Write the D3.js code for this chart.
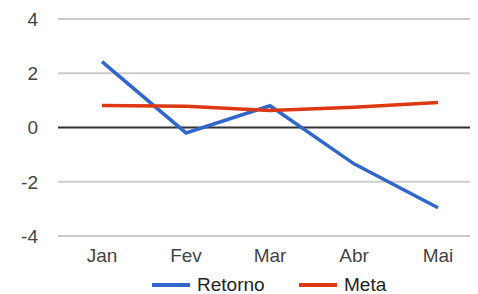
<!DOCTYPE html>
<html>
<head>
<meta charset="utf-8">
<script src="https://cdn.jsdelivr.net/npm/d3@7"></script>
<style>
  body { margin: 0; background: #fff; }
  text { font-family: "Liberation Sans", Arial, sans-serif; }
</style>
</head>
<body>
<svg id="chart" width="478" height="294"></svg>
<script>
let months = ['Jan', 'Fev', 'Mar', 'Abr', 'Mai'];
let retorno = [2.43, -0.2, 0.8, -1.34, -2.96];
let meta = [0.81, 0.78, 0.63, 0.75, 0.92];
let yTicks = [4, 2, 0, -2, -4];
let seriesNames = ['Retorno', 'Meta'];
let seriesColors = ['#3366cc', '#dc3912'];

let svg = d3.select('#chart');
let left = 58, right = 470;

let x = d3.scalePoint().domain(months).range([102, 438]);
let y = d3.scaleLinear().domain([-4, 4]).range([236, 19]);

// gridlines
svg.append('g')
    .selectAll('line')
    .data(yTicks.filter(d => d !== 0))
    .enter()
    .append('line')
    .attr('x1', left)
    .attr('x2', right)
    .attr('y1', d => y(d))
    .attr('y2', d => y(d))
    .attr('stroke', '#cccccc')
    .attr('stroke-width', 2);

// y labels
svg.append('g')
    .selectAll('text')
    .data(yTicks)
    .enter()
    .append('text')
    .attr('x', 38)
    .attr('y', d => y(d))
    .attr('dy', '0.36em')
    .attr('text-anchor', 'end')
    .attr('font-size', 19)
    .attr('fill', '#444')
    .text(d => d);

// x labels
svg.append('g')
    .selectAll('text')
    .data(months)
    .enter()
    .append('text')
    .attr('x', d => x(d))
    .attr('y', 262)
    .attr('text-anchor', 'middle')
    .attr('font-size', 19)
    .attr('fill', '#444')
    .text(d => d);

let line = d3.line()
    .x((d, i) => x(months[i]))
    .y(d => y(d));

// zero line
svg.append('line')
    .attr('x1', left)
    .attr('x2', right)
    .attr('y1', y(0))
    .attr('y2', y(0))
    .attr('stroke', '#333333')
    .attr('stroke-width', 2);

[retorno, meta].forEach((vals, i) => {
    svg.append('path')
        .datum(vals)
        .attr('d', line)
        .attr('fill', 'none')
        .attr('stroke', seriesColors[i])
        .attr('stroke-width', 3.5);
});

// legend
let legendX = [152, 299];
let legend = svg.append('g')
    .selectAll('g')
    .data(seriesNames)
    .enter()
    .append('g')
    .attr('transform', (d, i) => `translate(${legendX[i]}, 285)`);

legend.append('line')
    .attr('x1', 0)
    .attr('x2', 38)
    .attr('stroke', (d, i) => seriesColors[i])
    .attr('stroke-width', 4);

legend.append('text')
    .attr('x', 45)
    .attr('y', 6)
    .attr('font-size', 19)
    .attr('fill', '#222')
    .text(d => d);
</script>
</body>
</html>
